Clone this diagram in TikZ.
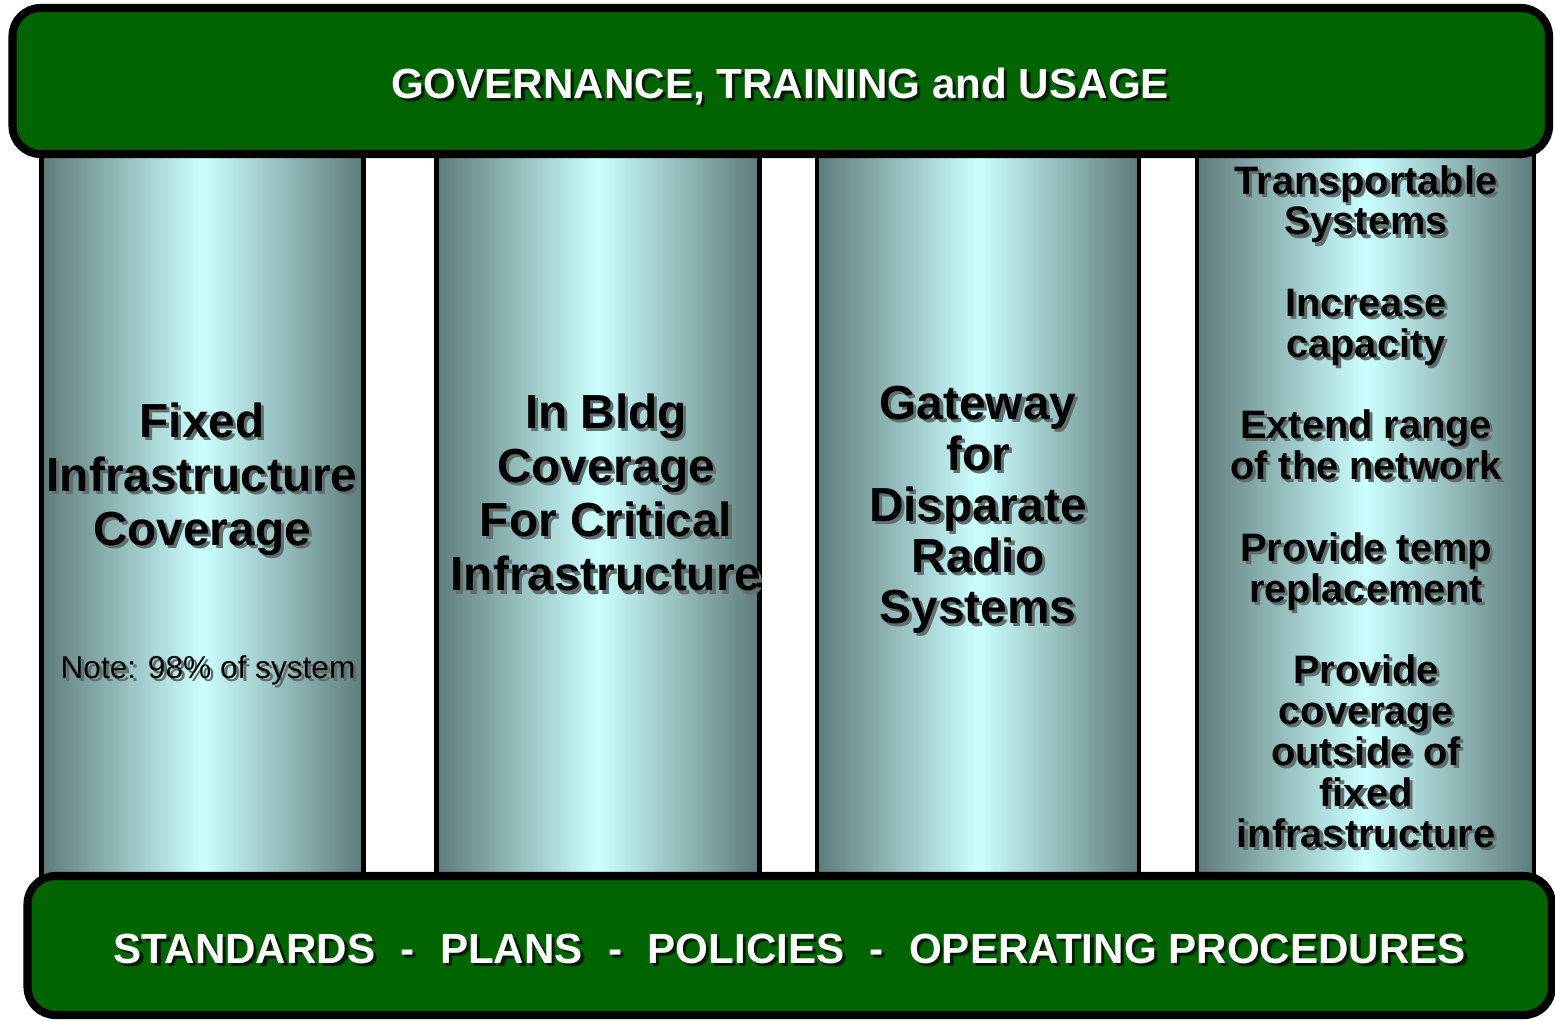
\documentclass[tikz,border=0pt]{standalone}
\usepackage{fontspec}
\setmainfont{Liberation Sans}
\definecolor{bargreen}{RGB}{0,100,0}
\definecolor{barshade}{RGB}{0,30,0}
\definecolor{pillaredge}{RGB}{94,123,122}
\definecolor{pillarlight}{RGB}{204,255,255}
\definecolor{textshade}{RGB}{95,110,110}
% text with a soft drop shadow behind it
\newcommand\dropshade[2]{\rlap{\hspace{0.9pt}\raisebox{-0.9pt}{\color{#1}\begin{tabular}{@{}c@{}}#2\end{tabular}}}\begin{tabular}{@{}c@{}}#2\end{tabular}}
\begin{document}
\begin{tikzpicture}[x=0.1mm,y=-0.1mm,
    pillar/.style={draw,line width=1.4pt,left color=pillaredge,right color=pillaredge,middle color=pillarlight,minimum height=73mm,inner sep=0},
    bar/.style={draw,line width=2.3pt,fill=bargreen,rounded corners=2.8mm,inner sep=0},
    bartext/.style={text=white,font=\fontsize{12}{14.4}\selectfont\bfseries,inner sep=0},
    bigtext/.style={font=\fontsize{13.6}{15.4}\selectfont\bfseries,inner sep=0}]
    \useasboundingbox[fill=white] (0,0) rectangle (1555,1020);
    % the four pillars
    \foreach \cx/\cw [count=\j from 1] in {202.5/32.2,598/32.3,978/32.2,1365.5/33.7}
        \node[pillar,minimum width=\cw mm] (col\j) at (\cx,515) {};
    % roof and floor
    \node[bar,minimum width=153.65mm,minimum height=14.6mm] (gov) at (780.75,81) {};
    \node[bar,minimum width=152.45mm,minimum height=13.9mm] (std) at (789.75,945.5) {};
    \node[bartext] (govtext) at (780,90) {\dropshade{barshade}{GOVERNANCE, TRAINING and USAGE}};
    \node[bartext] (stdtext) at (790,955) {\dropshade{barshade}{STANDARDS\hspace{0.6em}-\hspace{0.6em}PLANS\hspace{0.6em}-\hspace{0.6em}POLICIES\hspace{0.6em}-\hspace{0.6em}OPERATING PROCEDURES}};
    % pillar texts
    \node[bigtext] (fixed) at (202,482) {\dropshade{textshade}{Fixed\\Infrastructure\\Coverage}};
    \node[font=\fontsize{9}{10.8}\selectfont,inner sep=0] (note) at (208,672) {\dropshade{textshade}{Note: 98\% of system}};
    \node[bigtext] (inbldg) at (606,500.5) {\dropshade{textshade}{In Bldg\\Coverage\\For Critical\\Infrastructure}};
    \node[bigtext,font=\fontsize{13.6}{14.5}\selectfont\bfseries] (gateway) at (978,513) {\dropshade{textshade}{Gateway\\for\\Disparate\\Radio\\Systems}};
    \node[font=\fontsize{11.3}{11.55}\selectfont\bfseries,inner sep=0] (transp) at (1366,514) {\dropshade{textshade}{Transportable\\Systems\\ \\Increase\\capacity\\ \\Extend range\\of the network\\ \\Provide temp\\replacement\\ \\Provide\\coverage\\outside of\\fixed\\infrastructure}};
\end{tikzpicture}
\end{document}
